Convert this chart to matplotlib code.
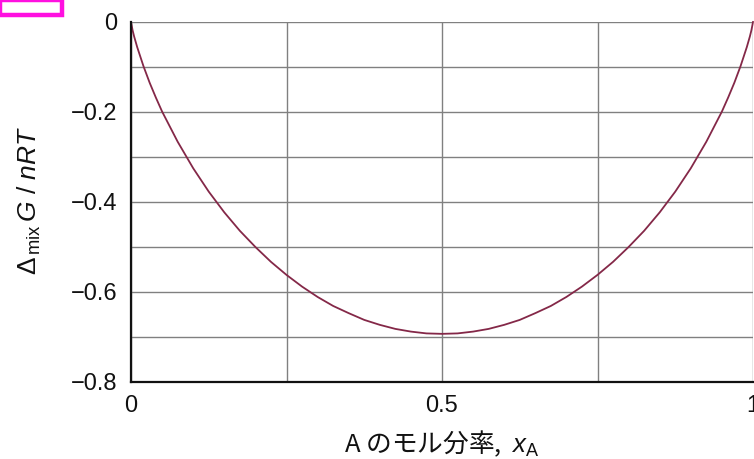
import matplotlib
matplotlib.use("Agg")
import matplotlib.pyplot as plt
from matplotlib.patches import Rectangle

plt.rcParams['font.family'] = ['Liberation Sans', 'DejaVu Sans']
plt.rcParams['mathtext.fontset'] = 'custom'
plt.rcParams['mathtext.rm'] = 'Liberation Sans'
plt.rcParams['mathtext.it'] = 'Liberation Sans:italic'
plt.rcParams['mathtext.bf'] = 'Liberation Sans:bold'

# Mole fraction of A (left half; the curve is symmetric about 0.5)
x_half = [0.0, 0.0025, 0.005, 0.01, 0.02, 0.03, 0.04, 0.05, 0.075, 0.1, 0.125,
          0.15, 0.175, 0.2, 0.225, 0.25, 0.275, 0.3, 0.325, 0.35, 0.375, 0.4,
          0.425, 0.45, 0.475, 0.5]
# Gibbs energy of mixing divided by nRT at those mole fractions
g_half = [0.0, -0.018, -0.032, -0.056, -0.098, -0.135, -0.168, -0.199, -0.266,
          -0.325, -0.377, -0.423, -0.464, -0.500, -0.533, -0.562, -0.588,
          -0.611, -0.631, -0.647, -0.662, -0.673, -0.682, -0.688, -0.692,
          -0.693]

x_A = x_half + [round(1 - v, 4) for v in reversed(x_half[:-1])]
dG_mix = g_half + list(reversed(g_half[:-1]))

x_ticks = [0, 0.5, 1]
x_ticklabels = ['0', '0.5', '1']
y_ticks = [0, -0.2, -0.4, -0.6, -0.8]
y_ticklabels = ['0', '\u22120.2', '\u22120.4', '\u22120.6', '\u22120.8']

W, H = 754, 459
fig = plt.figure(figsize=(W / 100, H / 100), dpi=100)
left, right, top, bottom = 131, 753, 22, 382
ax = fig.add_axes([left / W, 1 - bottom / H, (right - left) / W, (bottom - top) / H])

ax.plot(x_A, dG_mix, color='#842848', lw=1.3, zorder=3, clip_on=False)

ax.set_xlim(0, 1)
ax.set_ylim(-0.8, 0)
ax.set_xticks(x_ticks)
ax.set_xticklabels(x_ticklabels)
ax.set_yticks(y_ticks)
ax.set_yticklabels(y_ticklabels)
ax.set_xticks([0.25, 0.75], minor=True)
ax.set_yticks([-0.1, -0.3, -0.5, -0.7], minor=True)
ax.tick_params(which='both', length=0, labelsize=17, colors='#111111')
ax.tick_params(axis='y', pad=10)
ax.tick_params(axis='x', pad=9)

ax.grid(True, which='both', color='#808080', lw=1.0)
ax.set_axisbelow(True)
for s in ['top', 'right']:
    ax.spines[s].set_visible(False)
for s in ['left', 'bottom']:
    ax.spines[s].set_color('#111111')
    ax.spines[s].set_linewidth(1.6)
    ax.spines[s].set_zorder(4)

ax.set_ylabel(r'$\Delta_{\,\rm mix}\,G\ /\ nRT$', fontsize=19, color='#111111')
ax.yaxis.set_label_coords(-0.141, 0.506)
ax.set_xlabel('A のモル分率,  $x_{\\rm A}$', fontsize=18.5, color='#111111',
              family='Noto Sans CJK JP')
ax.xaxis.set_label_coords(0.5, -0.128)

# highlight box in the top-left corner
fig.add_artist(Rectangle((0, 1 - 15 / H), 62 / W, 15 / H, transform=fig.transFigure,
                         fill=False, edgecolor='#ff10e0', lw=3.2, clip_on=False))

fig.savefig('out.png', dpi=100)
